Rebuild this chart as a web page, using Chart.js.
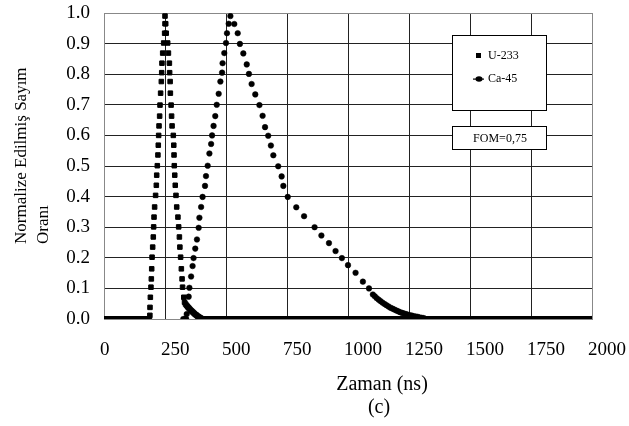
<!DOCTYPE html>
<html>
<head>
<meta charset="utf-8">
<script src="https://cdn.jsdelivr.net/npm/chart.js@4.4.1/dist/chart.umd.min.js"></script>
<style>
  html, body { margin: 0; padding: 0; background: #fff; }
  #grafico { display: block; }
</style>
</head>
<body>
<canvas id="grafico" width="629" height="426"></canvas>
<script>
// datos (tiempo en ns, tasa normalizada)
const u233X = [0, 186, 188, 188.5, 190, 192.5, 194, 195.5, 197, 199.5, 202, 203.5, 205, 207.5, 211.5, 214.5, 216, 218.5, 221, 222.5, 224, 225.5, 228, 229.5, 232, 235, 236.5, 237.5, 240.5, 244.5, 248.5, 250, 250,
  253, 255, 261, 264, 268, 269, 271, 272, 275, 277, 279, 284, 286, 287, 288, 290, 292, 295, 298, 303, 306, 309, 311, 314, 317, 320, 322, 327,
  330, 334, 338, 342, 346, 350, 354, 358, 362, 366, 370, 374, 378, 382, 386, 390, 394, 398, 402, 2000];
const u233Y = [0, 0, 0.012, 0.038, 0.071, 0.104, 0.131, 0.164, 0.202, 0.235, 0.268, 0.301, 0.333, 0.366, 0.404, 0.437, 0.470, 0.501, 0.536, 0.568, 0.600, 0.631, 0.663, 0.699, 0.738, 0.776, 0.805, 0.836, 0.869, 0.902, 0.934, 0.965, 0.99,
  0.965, 0.934, 0.902, 0.869, 0.836, 0.805, 0.776, 0.738, 0.699, 0.663, 0.631, 0.600, 0.568, 0.536, 0.501, 0.470, 0.437, 0.404, 0.366, 0.333, 0.301, 0.268, 0.235, 0.202, 0.164, 0.131, 0.104, 0.071,
  0.055, 0.049, 0.045, 0.041, 0.037, 0.034, 0.030, 0.027, 0.024, 0.021, 0.018, 0.015, 0.013, 0.010, 0.008, 0.006, 0.004, 0.002, 0, 0];

const ca45X = [325, 337, 339, 343, 347, 350, 357, 363, 367, 374, 381, 388, 391, 398, 404, 414, 418, 425, 432, 439, 443, 449, 456, 462, 470, 477, 484, 486, 493, 500, 504, 511, 518,
  534, 548, 557, 571, 585, 594, 605, 620, 637, 650, 660, 673, 684, 694, 714, 728, 735, 753, 788, 820, 863, 891, 922, 949, 975, 1000, 1031, 1061, 1086,
  1102, 1110, 1118, 1126, 1134, 1142, 1150, 1158, 1166, 1174, 1182, 1190, 1198, 1206, 1214, 1222, 1230, 1238, 1246, 1254, 1262, 1270, 1278, 1286, 1294, 1302, 1310, 1318, 2000];
const ca45Y = [0, 0, 0.016, 0.040, 0.073, 0.102, 0.139, 0.173, 0.199, 0.230, 0.260, 0.298, 0.331, 0.366, 0.399, 0.435, 0.467, 0.501, 0.541, 0.572, 0.600, 0.631, 0.663, 0.700, 0.736, 0.776, 0.805, 0.836, 0.869, 0.902, 0.934, 0.965, 0.99,
  0.964, 0.934, 0.899, 0.868, 0.832, 0.801, 0.768, 0.734, 0.699, 0.664, 0.627, 0.599, 0.567, 0.535, 0.499, 0.466, 0.435, 0.399, 0.365, 0.336, 0.300, 0.273, 0.248, 0.222, 0.199, 0.176, 0.151, 0.122, 0.100,
  0.080, 0.074, 0.068, 0.063, 0.058, 0.053, 0.049, 0.045, 0.041, 0.037, 0.034, 0.031, 0.028, 0.025, 0.022, 0.020, 0.018, 0.016, 0.014, 0.012, 0.011, 0.009, 0.008, 0.007, 0.005, 0.004, 0.003, 0, 0];

const xTicks = [0, 250, 500, 750, 1000, 1250, 1500, 1750, 2000];
const yTicks = [0, 0.1, 0.2, 0.3, 0.4, 0.5, 0.6, 0.7, 0.8, 0.9, 1.0];
const nombres = ['U-233', 'Ca-45'];
const fomTexto = 'FOM=0,75';

const serif = "'Liberation Serif', 'Times New Roman', serif";

// tramos con valor cero se dibujan como banda gruesa
const tramoCero = ctx => (ctx.p0.parsed.y === 0 && ctx.p1.parsed.y === 0) ? '#000' : 'transparent';

function serie(xs, ys) {
  return xs.map((x, i) => ({ x: x, y: ys[i] }));
}

const decoraciones = {
  id: 'decoraciones',
  afterDraw(chart) {
    const c = chart.ctx;
    c.save();
    // leyenda
    c.fillStyle = '#fff';
    c.strokeStyle = '#000';
    c.lineWidth = 1;
    c.fillRect(452.5, 35.5, 94, 75);
    c.strokeRect(452.5, 35.5, 94, 75);
    c.fillStyle = '#000';
    c.fillRect(476, 53, 5, 5);
    c.beginPath();
    c.ellipse(479, 79, 3.5, 2.8, 0, 0, Math.PI * 2);
    c.fill();
    c.fillRect(473, 78.5, 11, 1.2);
    c.font = '12px ' + serif;
    c.textAlign = 'left';
    c.textBaseline = 'middle';
    c.fillText(nombres[0], 488, 56);
    c.fillText(nombres[1], 488, 79);
    // caja FOM
    c.fillStyle = '#fff';
    c.fillRect(452.5, 126.5, 94, 23);
    c.strokeRect(452.5, 126.5, 94, 23);
    c.fillStyle = '#000';
    c.textAlign = 'center';
    c.fillText(fomTexto, 500, 138.5);
    // titulos
    c.font = '20px ' + serif;
    c.fillText('Zaman (ns)', 382, 385);
    c.fillText('(c)', 379, 408);
    c.font = '17px ' + serif;
    c.translate(0, 244);
    c.rotate(-Math.PI / 2);
    c.textAlign = 'left';
    c.fillText('Normalize Edilmiş Sayım', 0, 22);
    c.fillText('Oranı', 0, 44);
    c.restore();
  }
};

new Chart(document.getElementById('grafico'), {
  type: 'scatter',
  data: {
    datasets: [{
      label: nombres[0],
      data: serie(u233X, u233Y),
      showLine: true,
      borderWidth: 6,
      borderColor: '#000',
      segment: { borderColor: tramoCero },
      pointStyle: 'rect',
      pointRadius: 3.2,
      pointBorderWidth: 1,
      pointBackgroundColor: '#000',
      pointBorderColor: '#000'
    }, {
      label: nombres[1],
      data: serie(ca45X, ca45Y),
      showLine: true,
      borderWidth: 6,
      borderColor: '#000',
      segment: { borderColor: tramoCero },
      pointStyle: 'circle',
      pointRadius: 2.8,
      pointBorderWidth: 0.5,
      pointBackgroundColor: '#000',
      pointBorderColor: '#000'
    }]
  },
  options: {
    responsive: false,
    animation: false,
    layout: { padding: { top: 13, right: 37, left: 0, bottom: 0 } },
    scales: {
      x: {
        type: 'linear', min: 0, max: 2000,
        afterBuildTicks: s => { s.ticks = xTicks.map(v => ({ value: v })); },
        afterFit: s => { s.height = 107; s.paddingLeft = 0; s.paddingRight = 0; },
        ticks: { align: 'start', labelOffset: -4, padding: 20, color: '#000', font: { family: serif, size: 19 }, callback: v => String(v) },
        grid: { drawTicks: false, color: ctx => (ctx.tick && (ctx.tick.value === 0 || ctx.tick.value === 2000)) ? '#888' : '#222' },
        border: { color: '#888' }
      },
      y: {
        min: 0, max: 1,
        afterBuildTicks: s => { s.ticks = yTicks.map(v => ({ value: v })); },
        afterFit: s => { s.width = 104; s.paddingTop = 0; s.paddingBottom = 0; },
        ticks: { padding: 14, color: '#000', font: { family: serif, size: 19 }, callback: v => v.toFixed(1) },
        grid: { drawTicks: false, color: ctx => (ctx.tick && ctx.tick.value === 1) ? '#888' : '#222' },
        border: { color: '#888' }
      }
    },
    plugins: { legend: { display: false }, tooltip: { enabled: false } }
  },
  plugins: [decoraciones]
});
</script>
</body>
</html>
